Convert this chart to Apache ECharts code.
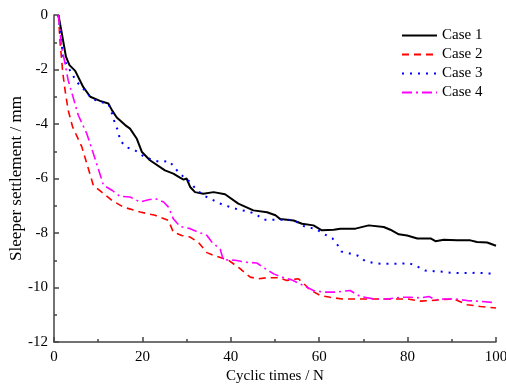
<!DOCTYPE html>
<html>
<head>
<meta charset="utf-8">
<script src="https://cdn.jsdelivr.net/npm/echarts@6/dist/echarts.min.js"></script>
<style>
html,body{margin:0;padding:0;background:#fff;}
#chart{width:506px;height:384px;}
</style>
</head>
<body>
<div id="chart"></div>
<script>
var seriesNames = ['Case 1', 'Case 2', 'Case 3', 'Case 4'];
var c1x = [1, 1.7, 2.7, 3.5, 4.8, 6.6, 8.2, 10.4, 12.3, 13.1, 14.2, 16.1, 17.2, 18.7, 19.9, 21.7, 25.1, 27, 28.5, 29.3, 30, 30.8, 31.9, 33.8, 36.1, 38.7, 41.7, 45.1, 48.2, 50.1, 51.2, 54.2, 56.1, 58.7, 60.6, 63.3, 64.8, 68.2, 71.2, 74.6, 76.1, 78, 79.9, 82.2, 85.2, 86.3, 88.2, 91.2, 94.2, 95.7, 98, 100];
var c1y = [0, -0.61, -1.53, -1.84, -2.05, -2.64, -3.0, -3.15, -3.25, -3.49, -3.76, -4.04, -4.17, -4.53, -5.03, -5.33, -5.7, -5.82, -5.97, -6.04, -6.0, -6.31, -6.5, -6.56, -6.5, -6.58, -6.92, -7.17, -7.24, -7.35, -7.49, -7.54, -7.66, -7.72, -7.9, -7.88, -7.84, -7.84, -7.72, -7.78, -7.88, -8.05, -8.09, -8.2, -8.2, -8.3, -8.25, -8.27, -8.27, -8.33, -8.35, -8.47];
var c2x = [1, 1.4, 2.0, 2.5, 3.2, 4.2, 6.3, 8, 8.9, 10.8, 13.1, 15.7, 19.5, 22.9, 25.9, 27, 28.9, 30.8, 32.7, 34.6, 36.1, 39.5, 42.1, 44.4, 46.3, 48.2, 50.8, 52.7, 55.3, 56.5, 58, 60.2, 62.5, 65.2, 69.3, 72.3, 76.1, 79.9, 82.9, 85.2, 87.4, 90.4, 93.5, 96.5, 100];
var c2y = [0, -1.04, -2.14, -2.76, -3.49, -4.1, -4.84, -5.76, -6.25, -6.5, -6.8, -7.05, -7.23, -7.35, -7.54, -7.97, -8.09, -8.15, -8.35, -8.72, -8.82, -9.0, -9.31, -9.62, -9.68, -9.64, -9.64, -9.74, -9.68, -9.86, -10.09, -10.29, -10.36, -10.42, -10.42, -10.42, -10.42, -10.42, -10.5, -10.48, -10.45, -10.42, -10.63, -10.7, -10.75];
var c3x = [1, 2.1, 4.0, 5.1, 6.6, 8.5, 10.4, 12.3, 13.1, 13.8, 14.6, 14.9, 16.5, 18.3, 20.2, 22.1, 24, 26.1, 27.8, 29.3, 30.8, 32.3, 34.2, 36.1, 38, 39.9, 41.7, 43.6, 45.5, 47.4, 49.3, 51.2, 53.1, 55, 56.9, 59.1, 61, 63, 64.2, 65, 66.7, 68.6, 70.4, 72.3, 74.2, 76.1, 78.4, 80.3, 82.2, 84, 85.9, 87.8, 89.7, 91.6, 93.8, 95.7, 100];
var c3y = [0, -1.59, -2.14, -2.45, -2.7, -3.06, -3.19, -3.25, -3.61, -3.98, -4.29, -4.6, -4.86, -4.96, -5.18, -5.31, -5.39, -5.36, -5.7, -5.94, -6.13, -6.43, -6.65, -6.8, -6.95, -7.05, -7.14, -7.2, -7.29, -7.51, -7.51, -7.51, -7.51, -7.6, -7.78, -7.84, -8.03, -8.2, -8.45, -8.68, -8.74, -8.82, -9.03, -9.1, -9.13, -9.13, -9.13, -9.1, -9.23, -9.38, -9.4, -9.42, -9.46, -9.47, -9.47, -9.46, -9.5];
var c4x = [1, 1.7, 2.5, 3.2, 4.4, 5.5, 7.4, 8.9, 10, 11.2, 13.1, 14.9, 17.2, 19.5, 21.4, 22.9, 24.8, 25.9, 27, 28.5, 30.8, 32.7, 34.6, 35.7, 37.6, 38.3, 41, 43.3, 45.9, 47.8, 49.7, 51.6, 53.8, 57.2, 58.7, 61, 63.6, 65.9, 67, 68.2, 69.3, 72.3, 75.3, 78.4, 80.6, 82.9, 84.8, 86.3, 88.2, 90.8, 93.5, 96.5, 100];
var c4y = [0, -1.16, -1.78, -2.39, -3.06, -3.68, -4.35, -5.08, -5.64, -6.25, -6.43, -6.65, -6.68, -6.86, -6.78, -6.74, -6.86, -7.05, -7.48, -7.76, -7.84, -7.97, -8.09, -8.33, -8.6, -8.98, -9.0, -9.07, -9.1, -9.31, -9.5, -9.62, -9.72, -9.99, -10.11, -10.17, -10.17, -10.13, -10.11, -10.23, -10.33, -10.42, -10.42, -10.36, -10.36, -10.38, -10.33, -10.45, -10.42, -10.42, -10.48, -10.51, -10.56];

function pairs(xs, ys) { return xs.map(function (x, i) { return [x, ys[i]]; }); }

var FONT = 'Liberation Serif';
var axisCol = '#444';
var chart = echarts.init(document.getElementById('chart'), null, {renderer: 'canvas'});
chart.setOption({
  animation: false,
  backgroundColor: '#fff',
  grid: {left: 54, right: 10, top: 15, bottom: 42, containLabel: false, outerBoundsMode: 'none'},
  legend: {
    orient: 'vertical', left: 396, top: 23,
    itemWidth: 35, itemHeight: 12, itemGap: 4,
    itemStyle: {opacity: 0},
    textStyle: {fontFamily: FONT, fontSize: 15, color: '#000'},
    data: seriesNames
  },
  xAxis: {
    type: 'value', min: 0, max: 100, interval: 20,
    name: 'Cyclic times / N', nameLocation: 'middle', nameGap: 27, nameMoveOverlap: false,
    nameTextStyle: {fontFamily: FONT, fontSize: 15, color: '#000'},
    axisLine: {show: true, onZero: false, lineStyle: {color: axisCol, width: 1.5}},
    axisTick: {show: true, inside: true, length: 5, lineStyle: {color: axisCol, width: 1.5}},
    minorTick: {show: true, splitNumber: 2, length: 3, lineStyle: {color: axisCol, width: 1.5}},
    axisLabel: {fontFamily: FONT, fontSize: 15, color: '#000', margin: 8},
    splitLine: {show: false}
  },
  yAxis: {
    type: 'value', min: -12, max: 0, interval: 2,
    name: 'Sleeper settlement / mm', nameLocation: 'middle', nameGap: 29, nameMoveOverlap: false,
    nameTextStyle: {fontFamily: FONT, fontSize: 17, color: '#000'},
    axisLine: {show: true, onZero: false, lineStyle: {color: axisCol, width: 1.5}},
    axisTick: {show: true, inside: true, length: 5, lineStyle: {color: axisCol, width: 1.5}},
    minorTick: {show: true, splitNumber: 2, length: 3, lineStyle: {color: axisCol, width: 1.5}},
    axisLabel: {fontFamily: FONT, fontSize: 15, color: '#000', margin: 6},
    splitLine: {show: false}
  },
  series: [
    {name: seriesNames[0], type: 'line', symbol: 'none', data: pairs(c1x, c1y),
     lineStyle: {color: '#000000', width: 2}, itemStyle: {color: '#000000'}},
    {name: seriesNames[1], type: 'line', symbol: 'none', data: pairs(c2x, c2y),
     lineStyle: {color: '#ff0000', width: 1.6, type: [7, 5]}, itemStyle: {color: '#ff0000'}},
    {name: seriesNames[2], type: 'line', symbol: 'none', data: pairs(c3x, c3y),
     lineStyle: {color: '#0000ff', width: 2, type: [2, 6]}, itemStyle: {color: '#0000ff'}},
    {name: seriesNames[3], type: 'line', symbol: 'none', data: pairs(c4x, c4y),
     lineStyle: {color: '#ff00ff', width: 1.6, type: [10, 4, 2, 4]}, itemStyle: {color: '#ff00ff'}}
  ]
});
</script>
</body>
</html>
